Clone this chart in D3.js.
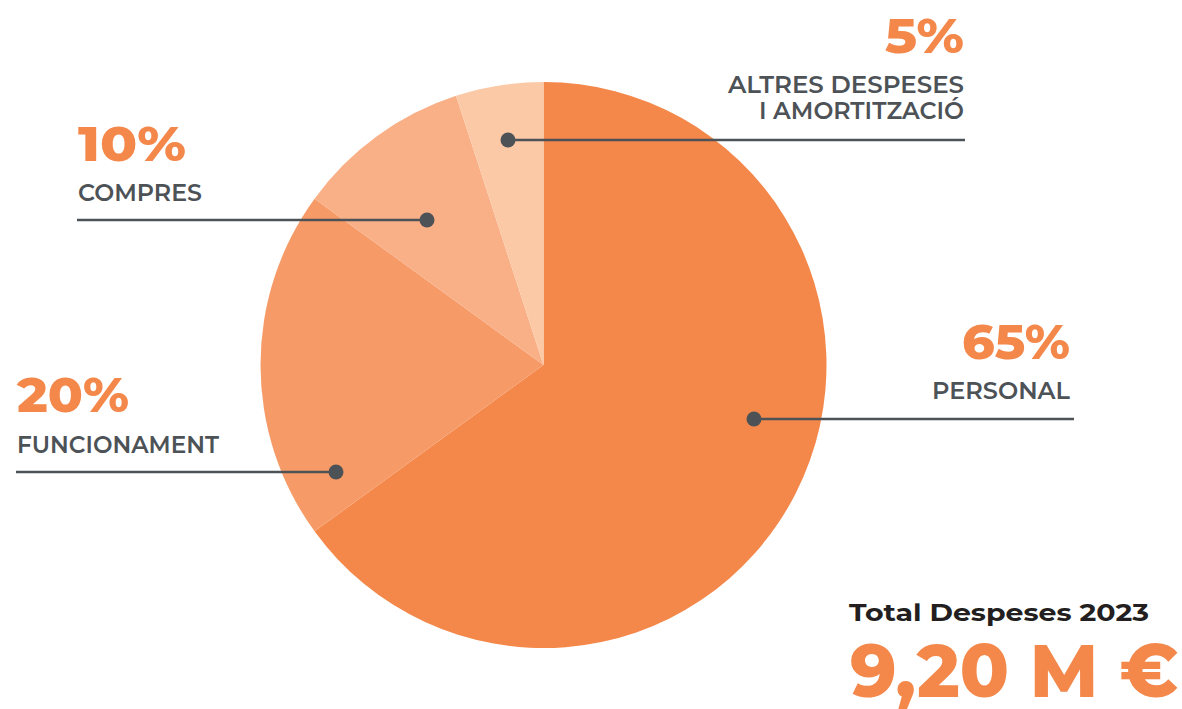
<!DOCTYPE html>
<html>
<head>
<meta charset="utf-8">
<script src="https://cdn.jsdelivr.net/npm/d3@7"></script>
<style>
html,body{margin:0;padding:0;background:#fff;}
svg{display:block;}
</style>
</head>
<body>
<svg id="chart" width="1182" height="709"></svg>
<script>
const categories = ["PERSONAL", "FUNCIONAMENT", "COMPRES", "ALTRES DESPESES I AMORTITZACIÓ"];
const values = [65, 20, 10, 5];
const percentLabels = ["65%", "20%", "10%", "5%"];
const nameLines = [["PERSONAL"], ["FUNCIONAMENT"], ["COMPRES"], ["ALTRES DESPESES", "I AMORTITZACIÓ"]];
const colors = ["#F4874A", "#F69B67", "#F9B087", "#FCC9A7"];
const totalTitle = "Total Despeses 2023";
const totalValue = "9,20 M €";

const svg = d3.select("#chart");
const cx = 543.5, cy = 365, R = 283;
const grey = "#4D5257", orange = "#F4874A";
const fontF = "Montserrat, 'Open Sans', Lato, sans-serif";

const data = categories.map((c, i) => ({name: c, value: values[i], pct: percentLabels[i], lines: nameLines[i], color: colors[i]}));
const pie = d3.pie().value(d => d.value).sort(null);
const arc = d3.arc().innerRadius(0).outerRadius(R);
const arcs = pie(data);

const g = svg.append("g").attr("transform", `translate(${cx},${cy})`);
g.selectAll("path").data(arcs).join("path")
  .attr("d", arc)
  .attr("fill", d => d.data.color);

// label layout (annotation positions)
const layout = [
  {dot:[754,419], lineEnd:1074, anchor:"end", textX:1070, pctY:359, nameY:[399]},
  {dot:[336,472], lineEnd:16, anchor:"start", textX:17, pctY:412, nameY:[453]},
  {dot:[427,220], lineEnd:77, anchor:"start", textX:78, pctY:161, nameY:[201]},
  {dot:[508,140], lineEnd:965, anchor:"end", textX:964, pctY:53, nameY:[93,119]}
];
const pctWidths = [108, 112, 108, 79];
const nameWidths = [[138],[202],[124],[236,205]];

arcs.forEach((a, i) => {
  const L = layout[i];
  svg.append("line")
    .attr("x1", L.dot[0]).attr("y1", L.dot[1])
    .attr("x2", L.lineEnd).attr("y2", L.dot[1])
    .attr("stroke", grey).attr("stroke-width", 2.5);
  svg.append("circle")
    .attr("cx", L.dot[0]).attr("cy", L.dot[1]).attr("r", 7.5)
    .attr("fill", grey);
  svg.append("text")
    .attr("x", L.textX).attr("y", L.pctY)
    .attr("text-anchor", L.anchor)
    .attr("font-family", fontF).attr("font-weight", 800)
    .attr("font-size", 48).attr("fill", orange)
    .attr("textLength", pctWidths[i]).attr("lengthAdjust", "spacingAndGlyphs")
    .text(a.data.pct);
  a.data.lines.forEach((ln, j) => {
    svg.append("text")
      .attr("x", L.textX).attr("y", L.nameY[j])
      .attr("text-anchor", L.anchor)
      .attr("font-family", fontF).attr("font-weight", 600)
      .attr("font-size", 23).attr("fill", grey)
      .attr("textLength", nameWidths[i][j]).attr("lengthAdjust", "spacingAndGlyphs")
      .text(ln);
  });
});

svg.append("text")
  .attr("x", 849).attr("y", 621)
  .attr("font-family", fontF).attr("font-weight", 700)
  .attr("font-size", 24).attr("fill", "#231F20")
  .attr("textLength", 300).attr("lengthAdjust", "spacingAndGlyphs")
  .text(totalTitle);
svg.append("text")
  .attr("x", 850).attr("y", 697)
  .attr("font-family", fontF).attr("font-weight", 800)
  .attr("font-size", 74).attr("fill", orange)
  .attr("textLength", 328).attr("lengthAdjust", "spacingAndGlyphs")
  .text(totalValue);
</script>
</body>
</html>
